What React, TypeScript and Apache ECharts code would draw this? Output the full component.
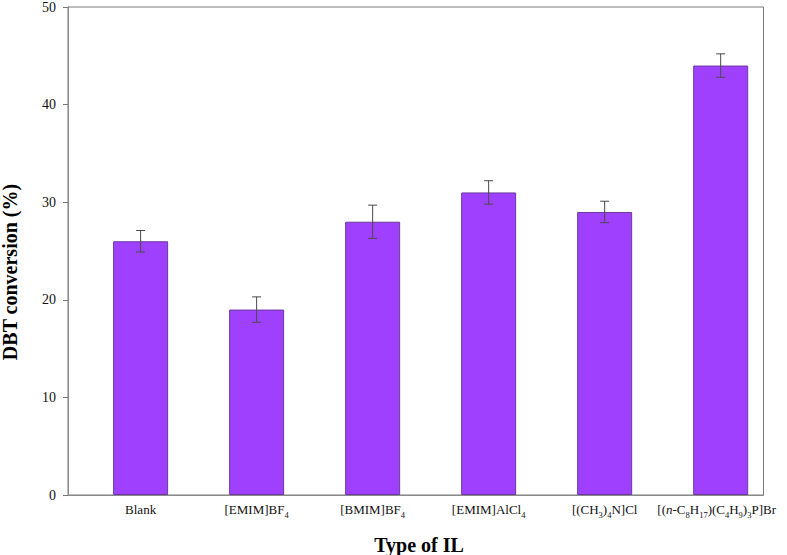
import React, { useEffect, useRef } from "react";
import * as echarts from "echarts";

const categories = ["Blank", "[EMIM]BF4", "[BMIM]BF4", "[EMIM]AlCl4", "[(CH3)4N]Cl", "[(n-C8H17)(C4H9)3P]Br"];
const categoryRich = [
  "{a|Blank}",
  "{a|[EMIM]BF}{s|4}",
  "{a|[BMIM]BF}{s|4}",
  "{a|[EMIM]AlCl}{s|4}",
  "{a|[(CH}{s|3}{a|)}{s|4}{a|N]Cl}",
  "{a|[(}{i|n}{a|-C}{s|8}{a|H}{s|17}{a|)(C}{s|4}{a|H}{s|9}{a|)}{s|3}{a|P]Br}{g|}",
];
const conversion = [26, 19, 28, 31, 29, 44];
const errors = [1.1, 1.3, 1.7, 1.2, 1.1, 1.2];
const yTicks = [0, 10, 20, 30, 40, 50];

const FONT = "'Liberation Serif', 'Times New Roman', serif";

export default function App() {
  const ref = useRef<HTMLDivElement>(null);
  useEffect(() => {
    if (!ref.current) return;
    const chart = echarts.init(ref.current, undefined, { renderer: "svg" });
    const barData = conversion.map((v, i) => [i, v]);
    const errData = conversion.map((v, i) => [i, v - errors[i], v + errors[i]]);
    chart.setOption({
      animation: false,
      backgroundColor: "#ffffff",
      grid: {
        left: 68,
        right: 20,
        top: 6,
        bottom: 60,
        show: true,
        borderColor: "#7a7a7a",
        borderWidth: 1,
      },
      xAxis: {
        type: "value",
        min: -0.626,
        max: 5.369,
        splitLine: { show: false },
        axisTick: { show: false },
        axisLine: { show: true, onZero: false, lineStyle: { color: "#8a8a8a", width: 1 } },
        axisLabel: {
          customValues: categories.map((_, i) => i),
          margin: 8,
          formatter: (v: number) => categoryRich[Math.round(v)] ?? "",
          rich: {
            a: { fontFamily: FONT, fontSize: 13, color: "#111", lineHeight: 14, verticalAlign: "top" },
            i: { fontFamily: FONT, fontSize: 13, fontStyle: "italic", color: "#111", lineHeight: 14, verticalAlign: "top" },
            s: { fontFamily: FONT, fontSize: 8.5, color: "#111", lineHeight: 10, padding: [7, 0, 0, 0], verticalAlign: "top" },
            g: { width: 8, lineHeight: 14 },
          },
        },
      },
      yAxis: {
        type: "value",
        min: yTicks[0],
        max: yTicks[yTicks.length - 1],
        interval: 10,
        splitLine: { show: false },
        axisLine: { show: true, onZero: false, lineStyle: { color: "#8a8a8a", width: 1 } },
        axisTick: { show: true, inside: false, length: 5, lineStyle: { color: "#777" } },
        axisLabel: { fontFamily: FONT, fontSize: 14, color: "#111", margin: 12, padding: [3, 0, 0, 0] },
      },
      graphic: [
        {
          type: "text",
          x: 10,
          y: 272,
          rotation: Math.PI / 2,
          style: {
            text: "DBT conversion (%)",
            fontFamily: FONT,
            fontWeight: "bold",
            fontSize: 20,
            fill: "#000",
            align: "center",
            verticalAlign: "middle",
          },
        },
        {
          type: "text",
          x: 419,
          y: 545,
          style: {
            text: "Type of IL",
            fontFamily: FONT,
            fontWeight: "bold",
            fontSize: 20,
            fill: "#000",
            align: "center",
            verticalAlign: "middle",
          },
        },
      ],
      series: [
        {
          type: "bar",
          data: barData,
          barWidth: 55,
          itemStyle: { color: "#a040ff", borderColor: "#6a3a9c", borderWidth: 1 },
        },
        {
          type: "custom",
          data: errData,
          z: 10,
          renderItem: (params: any, api: any) => {
            const x = api.value(0);
            const lo = api.coord([x, api.value(1)]);
            const hi = api.coord([x, api.value(2)]);
            const w = 4.5;
            const style = { stroke: "#4a4a4a", lineWidth: 1, fill: "none" };
            return {
              type: "group",
              children: [
                { type: "line", shape: { x1: hi[0], y1: hi[1], x2: lo[0], y2: lo[1] }, style },
                { type: "line", shape: { x1: hi[0] - w, y1: hi[1], x2: hi[0] + w, y2: hi[1] }, style },
                { type: "line", shape: { x1: lo[0] - w, y1: lo[1], x2: lo[0] + w, y2: lo[1] }, style },
              ],
            };
          },
        },
      ],
    });
    return () => chart.dispose();
  }, []);
  return <div ref={ref} style={{ position: "fixed", left: 0, top: 0, width: 787, height: 555 }} />;
}
